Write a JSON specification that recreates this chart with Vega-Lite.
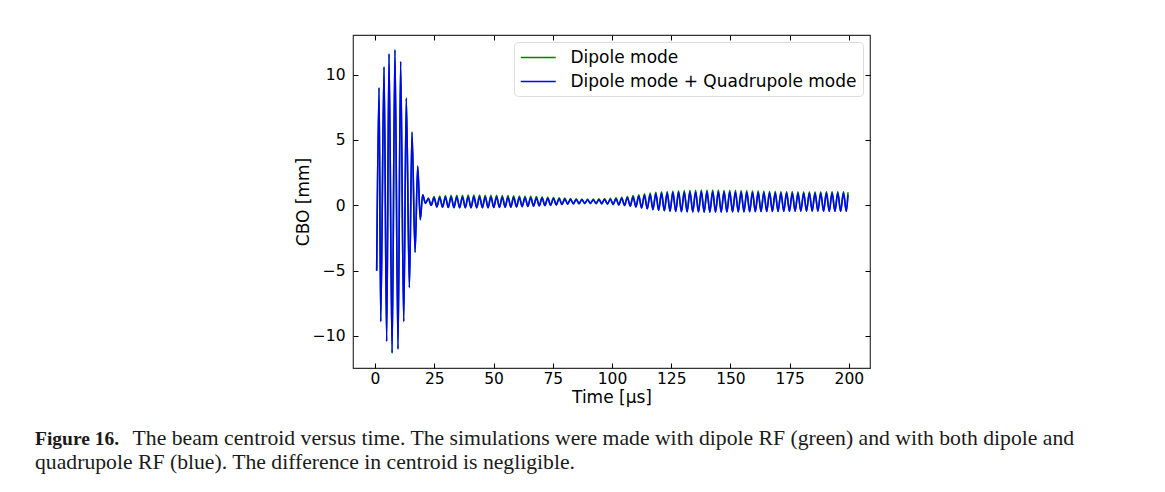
{
  "$schema": "https://vega.github.io/schema/vega-lite/v6.json",
  "width": 517,
  "height": 333,
  "autosize": {"type": "none"},
  "padding": {"left": 353, "top": 35, "right": 295, "bottom": 124},
  "background": "white",
  "config": {
    "view": {"stroke": "#333333", "strokeWidth": 1.2},
    "font": "DejaVu Sans"
  },
  "title": {
    "text": "Figure 16.",
    "subtitle": [
      "\u200b\u00a0\u00a0\u00a0\u00a0\u00a0\u00a0\u00a0\u00a0\u00a0\u00a0\u00a0\u00a0\u00a0\u00a0\u00a0\u00a0\u00a0\u00a0The beam centroid versus time. The simulations were made with dipole RF (green) and with both dipole and",
      "quadrupole RF (blue). The difference in centroid is negligible."
    ],
    "orient": "bottom",
    "anchor": "start",
    "frame": "group",
    "dx": -318,
    "offset": 24,
    "font": "Liberation Serif",
    "fontSize": 19.5,
    "fontWeight": "bold",
    "color": "#1a1a1a",
    "subtitleFont": "Liberation Serif",
    "subtitleFontSize": 21.7,
    "subtitleFontWeight": "normal",
    "subtitleColor": "#1a1a1a",
    "subtitleLineHeight": 24,
    "subtitlePadding": -21.2
  },
  "data": {
    "values": [
      {"t": 0.7, "d": -5.0, "q": -5.0},
      {"t": 1.7, "d": 9.0, "q": 9.0},
      {"t": 2.4, "d": -8.9, "q": -8.9},
      {"t": 3.8, "d": 10.6, "q": 10.6},
      {"t": 4.9, "d": -10.4, "q": -10.4},
      {"t": 5.9, "d": 11.6, "q": 11.6},
      {"t": 7.2, "d": -11.3, "q": -11.3},
      {"t": 8.4, "d": 11.9, "q": 11.9},
      {"t": 9.7, "d": -11.0, "q": -11.0},
      {"t": 10.8, "d": 11.0, "q": 11.0},
      {"t": 12.1, "d": -8.9, "q": -8.9},
      {"t": 13.2, "d": 8.2, "q": 8.2},
      {"t": 14.5, "d": -6.3, "q": -6.3},
      {"t": 15.6, "d": 5.6, "q": 5.6},
      {"t": 16.9, "d": -3.6, "q": -3.6},
      {"t": 18.0, "d": 3.0, "q": 3.0},
      {"t": 19.1, "d": -1.1, "q": -1.1},
      {"t": 20.1, "d": 0.8, "q": 0.8},
      {"t": 21.3, "d": 0.15, "q": 0.15},
      {"t": 22.5, "d": 0.55, "q": 0.5},
      {"t": 23.7, "d": 0.0, "q": 0.0},
      {"t": 24.9, "d": 0.66, "q": 0.58},
      {"t": 26.1, "d": -0.12, "q": -0.12},
      {"t": 27.3, "d": 0.7, "q": 0.6},
      {"t": 28.5, "d": -0.15, "q": -0.15},
      {"t": 29.7, "d": 0.74, "q": 0.62},
      {"t": 30.9, "d": -0.17, "q": -0.17},
      {"t": 32.1, "d": 0.76, "q": 0.63},
      {"t": 33.3, "d": -0.18, "q": -0.18},
      {"t": 34.5, "d": 0.77, "q": 0.64},
      {"t": 35.7, "d": -0.18, "q": -0.18},
      {"t": 36.9, "d": 0.77, "q": 0.64},
      {"t": 38.1, "d": -0.19, "q": -0.19},
      {"t": 39.3, "d": 0.78, "q": 0.65},
      {"t": 40.5, "d": -0.19, "q": -0.19},
      {"t": 41.7, "d": 0.78, "q": 0.65},
      {"t": 42.9, "d": -0.19, "q": -0.19},
      {"t": 44.1, "d": 0.78, "q": 0.65},
      {"t": 45.3, "d": -0.18, "q": -0.18},
      {"t": 46.5, "d": 0.77, "q": 0.64},
      {"t": 47.7, "d": -0.18, "q": -0.18},
      {"t": 48.9, "d": 0.77, "q": 0.64},
      {"t": 50.1, "d": -0.17, "q": -0.17},
      {"t": 51.3, "d": 0.76, "q": 0.63},
      {"t": 52.5, "d": -0.16, "q": -0.16},
      {"t": 53.7, "d": 0.75, "q": 0.62},
      {"t": 54.9, "d": -0.15, "q": -0.15},
      {"t": 56.1, "d": 0.74, "q": 0.61},
      {"t": 57.3, "d": -0.14, "q": -0.14},
      {"t": 58.5, "d": 0.72, "q": 0.6},
      {"t": 59.7, "d": -0.12, "q": -0.12},
      {"t": 60.9, "d": 0.71, "q": 0.59},
      {"t": 62.1, "d": -0.1, "q": -0.1},
      {"t": 63.3, "d": 0.69, "q": 0.58},
      {"t": 64.5, "d": -0.08, "q": -0.08},
      {"t": 65.7, "d": 0.68, "q": 0.57},
      {"t": 66.9, "d": -0.06, "q": -0.06},
      {"t": 68.1, "d": 0.66, "q": 0.56},
      {"t": 69.3, "d": -0.04, "q": -0.04},
      {"t": 70.5, "d": 0.64, "q": 0.55},
      {"t": 71.7, "d": -0.02, "q": -0.02},
      {"t": 72.9, "d": 0.62, "q": 0.53},
      {"t": 74.1, "d": 0.0, "q": 0.0},
      {"t": 75.3, "d": 0.6, "q": 0.52},
      {"t": 76.5, "d": 0.03, "q": 0.03},
      {"t": 77.7, "d": 0.58, "q": 0.5},
      {"t": 78.9, "d": 0.06, "q": 0.06},
      {"t": 80.1, "d": 0.55, "q": 0.48},
      {"t": 81.3, "d": 0.09, "q": 0.09},
      {"t": 82.5, "d": 0.52, "q": 0.46},
      {"t": 83.7, "d": 0.1, "q": 0.12},
      {"t": 84.9, "d": 0.5, "q": 0.44},
      {"t": 86.1, "d": 0.1, "q": 0.15},
      {"t": 87.3, "d": 0.48, "q": 0.42},
      {"t": 88.5, "d": 0.12, "q": 0.17},
      {"t": 89.7, "d": 0.47, "q": 0.4},
      {"t": 90.9, "d": 0.12, "q": 0.18},
      {"t": 92.1, "d": 0.47, "q": 0.4},
      {"t": 93.3, "d": 0.1, "q": 0.17},
      {"t": 94.5, "d": 0.5, "q": 0.42},
      {"t": 95.7, "d": 0.08, "q": 0.15},
      {"t": 96.9, "d": 0.52, "q": 0.44},
      {"t": 98.1, "d": 0.06, "q": 0.12},
      {"t": 99.3, "d": 0.54, "q": 0.46},
      {"t": 100.5, "d": 0.04, "q": 0.09},
      {"t": 101.7, "d": 0.57, "q": 0.49},
      {"t": 102.9, "d": 0.01, "q": 0.05},
      {"t": 104.1, "d": 0.62, "q": 0.53},
      {"t": 105.3, "d": -0.03, "q": 0.0},
      {"t": 106.5, "d": 0.67, "q": 0.58},
      {"t": 107.7, "d": -0.06, "q": -0.06},
      {"t": 108.9, "d": 0.74, "q": 0.64},
      {"t": 110.1, "d": -0.13, "q": -0.13},
      {"t": 111.3, "d": 0.8, "q": 0.7},
      {"t": 112.5, "d": -0.2, "q": -0.2},
      {"t": 113.7, "d": 0.87, "q": 0.76},
      {"t": 114.9, "d": -0.27, "q": -0.27},
      {"t": 116.1, "d": 0.93, "q": 0.82},
      {"t": 117.3, "d": -0.33, "q": -0.33},
      {"t": 118.5, "d": 0.99, "q": 0.87},
      {"t": 119.7, "d": -0.38, "q": -0.38},
      {"t": 120.9, "d": 1.03, "q": 0.91},
      {"t": 122.1, "d": -0.42, "q": -0.42},
      {"t": 123.3, "d": 1.06, "q": 0.94},
      {"t": 124.5, "d": -0.45, "q": -0.45},
      {"t": 125.7, "d": 1.09, "q": 0.97},
      {"t": 126.9, "d": -0.47, "q": -0.47},
      {"t": 128.1, "d": 1.11, "q": 0.99},
      {"t": 129.3, "d": -0.49, "q": -0.49},
      {"t": 130.5, "d": 1.13, "q": 1.0},
      {"t": 131.7, "d": -0.5, "q": -0.5},
      {"t": 132.9, "d": 1.14, "q": 1.01},
      {"t": 134.1, "d": -0.51, "q": -0.51},
      {"t": 135.3, "d": 1.15, "q": 1.02},
      {"t": 136.5, "d": -0.51, "q": -0.51},
      {"t": 137.7, "d": 1.16, "q": 1.03},
      {"t": 138.9, "d": -0.52, "q": -0.52},
      {"t": 140.1, "d": 1.16, "q": 1.03},
      {"t": 141.3, "d": -0.52, "q": -0.52},
      {"t": 142.5, "d": 1.16, "q": 1.03},
      {"t": 143.7, "d": -0.52, "q": -0.52},
      {"t": 144.9, "d": 1.16, "q": 1.03},
      {"t": 146.1, "d": -0.52, "q": -0.52},
      {"t": 147.3, "d": 1.15, "q": 1.02},
      {"t": 148.5, "d": -0.51, "q": -0.51},
      {"t": 149.7, "d": 1.15, "q": 1.02},
      {"t": 150.9, "d": -0.51, "q": -0.51},
      {"t": 152.1, "d": 1.14, "q": 1.01},
      {"t": 153.3, "d": -0.5, "q": -0.5},
      {"t": 154.5, "d": 1.13, "q": 1.0},
      {"t": 155.7, "d": -0.5, "q": -0.5},
      {"t": 156.9, "d": 1.12, "q": 0.99},
      {"t": 158.1, "d": -0.49, "q": -0.49},
      {"t": 159.3, "d": 1.11, "q": 0.98},
      {"t": 160.5, "d": -0.49, "q": -0.49},
      {"t": 161.7, "d": 1.1, "q": 0.97},
      {"t": 162.9, "d": -0.48, "q": -0.48},
      {"t": 164.1, "d": 1.09, "q": 0.96},
      {"t": 165.3, "d": -0.48, "q": -0.48},
      {"t": 166.5, "d": 1.08, "q": 0.95},
      {"t": 167.7, "d": -0.47, "q": -0.47},
      {"t": 168.9, "d": 1.07, "q": 0.94},
      {"t": 170.1, "d": -0.47, "q": -0.47},
      {"t": 171.3, "d": 1.06, "q": 0.93},
      {"t": 172.5, "d": -0.46, "q": -0.46},
      {"t": 173.7, "d": 1.05, "q": 0.93},
      {"t": 174.9, "d": -0.46, "q": -0.46},
      {"t": 176.1, "d": 1.05, "q": 0.92},
      {"t": 177.3, "d": -0.46, "q": -0.46},
      {"t": 178.5, "d": 1.04, "q": 0.92},
      {"t": 179.7, "d": -0.45, "q": -0.45},
      {"t": 180.9, "d": 1.04, "q": 0.92},
      {"t": 182.1, "d": -0.45, "q": -0.45},
      {"t": 183.3, "d": 1.04, "q": 0.92},
      {"t": 184.5, "d": -0.45, "q": -0.45},
      {"t": 185.7, "d": 1.04, "q": 0.92},
      {"t": 186.9, "d": -0.45, "q": -0.45},
      {"t": 188.1, "d": 1.04, "q": 0.92},
      {"t": 189.3, "d": -0.45, "q": -0.45},
      {"t": 190.5, "d": 1.05, "q": 0.93},
      {"t": 191.7, "d": -0.46, "q": -0.46},
      {"t": 192.9, "d": 1.05, "q": 0.93},
      {"t": 194.1, "d": -0.46, "q": -0.46},
      {"t": 195.3, "d": 1.06, "q": 0.94},
      {"t": 196.5, "d": -0.46, "q": -0.46},
      {"t": 197.7, "d": 1.06, "q": 0.94},
      {"t": 198.9, "d": -0.46, "q": -0.46},
      {"t": 199.6, "d": 1.0, "q": 0.8}
    ]
  },
  "layer": [
    {
      "mark": {"type": "line", "interpolate": "monotone", "strokeWidth": 1.6, "clip": true},
      "encoding": {
        "x": {
          "field": "t", "type": "quantitative",
          "scale": {"domain": [-9.3, 208.9], "nice": false, "zero": false},
          "axis": {
            "orient": "bottom",
            "values": [0, 25, 50, 75, 100, 125, 150, 175, 200],
            "tickSize": -5, "tickColor": "black", "tickWidth": 1,
            "labelPadding": 8, "labelFontSize": 15.5, "labelColor": "black", "labelFlush": false,
            "domain": false, "grid": false,
            "title": "Time [μs]", "titleFontSize": 17, "titleFontWeight": "normal", "titleColor": "black", "titlePadding": 3
          }
        },
        "y": {
          "field": "d", "type": "quantitative",
          "scale": {"domain": [-12.45, 13.03], "nice": false, "zero": false},
          "axis": {
            "orient": "left",
            "values": [-10, -5, 0, 5, 10],
            "tickSize": -5, "tickColor": "black", "tickWidth": 1,
            "labelPadding": 13, "labelFontSize": 15.5, "labelColor": "black", "labelFlush": false,
            "domain": false, "grid": false,
            "title": "CBO [mm]", "titleFontSize": 17, "titleFontWeight": "normal", "titleColor": "black", "titlePadding": 0
          }
        },
        "color": {
          "datum": "Dipole mode", "type": "nominal",
          "scale": {"domain": ["Dipole mode", "Dipole mode + Quadrupole mode"], "range": ["#008000", "#0000ff"]},
          "legend": {
            "title": null, "orient": "top-right", "offset": 7, "padding": 6,
            "strokeColor": "#dddddd", "cornerRadius": 4, "fillColor": "rgba(255,255,255,0.85)",
            "symbolType": "M-1,0H3", "symbolSize": 306, "symbolStrokeWidth": 1.3,
            "labelFontSize": 17, "labelColor": "black", "labelOffset": 31.5, "labelLimit": 400,
            "rowPadding": 6
          }
        }
      }
    },
    {
      "mark": {"type": "line", "interpolate": "monotone", "strokeWidth": 1.6, "clip": true},
      "encoding": {
        "x": {
          "field": "t", "type": "quantitative",
          "axis": {
            "orient": "top", "values": [0, 25, 50, 75, 100, 125, 150, 175, 200],
            "tickSize": -5, "tickColor": "black", "tickWidth": 1,
            "labels": false, "domain": false, "grid": false, "title": null
          }
        },
        "y": {
          "field": "q", "type": "quantitative",
          "axis": {
            "orient": "right", "values": [-10, -5, 0, 5, 10],
            "tickSize": -5, "tickColor": "black", "tickWidth": 1,
            "labels": false, "domain": false, "grid": false, "title": null
          }
        },
        "color": {"datum": "Dipole mode + Quadrupole mode", "type": "nominal"}
      }
    }
  ]
}
